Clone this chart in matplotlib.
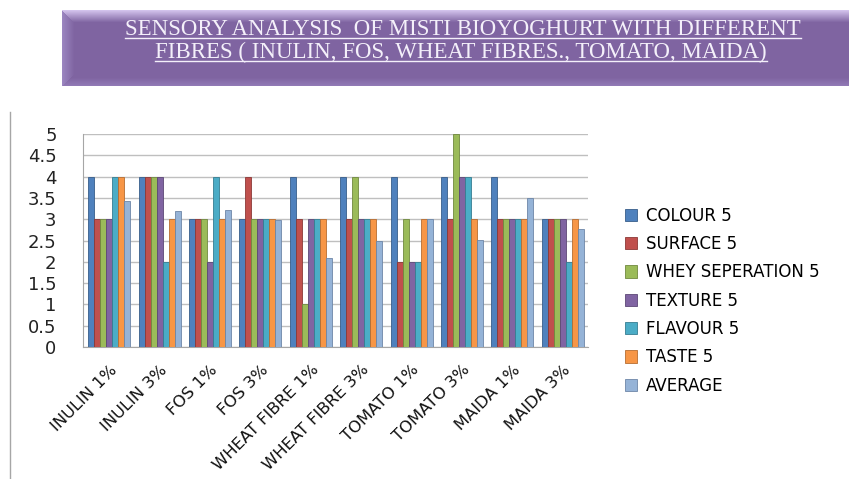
import numpy as np
import matplotlib
matplotlib.use("Agg")
import matplotlib.pyplot as plt
from matplotlib.lines import Line2D

# sensory scores (out of 5) for each sample
samples = ["INULIN 1%", "INULIN 3%", "FOS 1%", "FOS 3%", "WHEAT FIBRE 1%",
           "WHEAT FIBRE 3%", "TOMATO 1%", "TOMATO 3%", "MAIDA 1%", "MAIDA 3%"]
colour = [4, 4, 3, 3, 4, 4, 4, 4, 4, 3]
surface = [3, 4, 3, 4, 3, 3, 2, 3, 3, 3]
whey = [3, 4, 3, 3, 1, 4, 3, 5, 3, 3]
texture = [3, 4, 2, 3, 3, 3, 2, 4, 3, 3]
flavour = [4, 2, 4, 3, 3, 3, 2, 4, 3, 2]
taste = [4, 3, 3, 3, 3, 3, 3, 3, 3, 3]
average = [3.43, 3.2, 3.22, 2.98, 2.1, 2.5, 3.0, 2.52, 3.5, 2.76]

series = [("COLOUR 5", colour, "#4F81BD", "#385D8A"),
          ("SURFACE 5", surface, "#C0504D", "#8C3836"),
          ("WHEY SEPERATION 5", whey, "#9BBB59", "#71893F"),
          ("TEXTURE 5", texture, "#8064A2", "#5C4776"),
          ("FLAVOUR 5", flavour, "#4BACC6", "#357D91"),
          ("TASTE 5", taste, "#F79646", "#B66D31"),
          ("AVERAGE", average, "#95B3D7", "#6D86A8")]

title1 = "SENSORY ANALYSIS  OF MISTI BIOYOGHURT WITH DIFFERENT"
title2 = "FIBRES ( INULIN, FOS, WHEAT FIBRES., TOMATO, MAIDA)"

W, H = 849, 479
fig = plt.figure(figsize=(W / 100, H / 100), dpi=100)
fig.patch.set_facecolor("white")

# ---- bevelled purple banner ----
bx0, by0, bx1, by1 = 62, 10, 849, 86
bw, bh = bx1 - bx0, by1 - by0
base = np.array([127, 100, 161]) / 255.0
top_c = np.array([210, 194, 236]) / 255.0
left_c = np.array([155, 133, 192]) / 255.0
bot_c = np.array([145, 121, 181]) / 255.0
img = np.tile(base, (bh, bw, 1))
yy, xx = np.mgrid[0:bh, 0:bw]
d_top = yy.astype(float)
d_left = xx.astype(float)
d_bot = (bh - 1 - yy).astype(float)
bev = 12.0
m_top = (d_top < bev) & (d_top <= d_left)
m_left = (d_left < bev) & (d_left < d_top) & (d_left <= d_bot)
m_bot = (d_bot < 8) & (d_bot < d_left)
for m, c, d, n in [(m_top, top_c, d_top, bev), (m_left, left_c, d_left, bev),
                   (m_bot, bot_c, d_bot, 8.0)]:
    t = (1 - d / n)[..., None]
    img = np.where(m[..., None], base * (1 - t) + c * t, img)
bax = fig.add_axes([bx0 / W, 1 - by1 / H, bw / W, bh / H])
bax.imshow(img, aspect="auto", interpolation="bilinear")
bax.axis("off")

tcol = "#F4F0FA"
t1 = fig.text(463 / W, 1 - 29.5 / H, title1, ha="center", va="center",
              fontsize=16.5, family="Liberation Serif", color=tcol)
t2 = fig.text(461 / W, 1 - 52.5 / H, title2, ha="center", va="center",
              fontsize=16.5, family="Liberation Serif", color=tcol)
fig.canvas.draw()
r = fig.canvas.get_renderer()
for t, uy in [(t1, 37.5), (t2, 60.5)]:
    bb = t.get_window_extent(r).transformed(fig.transFigure.inverted())
    fig.add_artist(Line2D([bb.x0, bb.x1], [1 - uy / H, 1 - uy / H],
                          transform=fig.transFigure, color=tcol, lw=1.0))

# slide frame line on the left
fig.add_artist(Line2D([10 / W, 10 / W], [1 - 112 / H, 0.0],
                      transform=fig.transFigure, color="#A6A6A6", lw=1.0))

# ---- clustered columns ----
ax = fig.add_axes([83 / W, 1 - 347 / H, (588 - 83) / W, (347 - 134) / H])
x = np.arange(len(samples))
n = len(series)
bw_ = 0.119
for i, (name, vals, fc, ec) in enumerate(series):
    ax.bar(x + (i - (n - 1) / 2) * bw_, vals, width=bw_, color=fc,
           edgecolor=ec, linewidth=0.6, label=name, zorder=3)

ax.set_xlim(-0.52, 9.5)
ax.set_ylim(0, 5)
ax.set_yticks(np.arange(0, 5.01, 0.5))
ax.set_yticklabels(["0", "0.5", "1", "1.5", "2", "2.5", "3", "3.5", "4", "4.5", "5"])
ax.grid(axis="y", color="#BFBFBF", lw=1.0, zorder=0)
ax.set_axisbelow(True)
for s in ["top", "right"]:
    ax.spines[s].set_visible(False)
for s in ["left", "bottom"]:
    ax.spines[s].set_color("#A6A6A6")
ax.tick_params(axis="y", length=0, pad=19, labelsize=13, labelcolor="#222222")
ax.set_xticks(x)
ax.set_xticklabels(samples, rotation=45, ha="right", rotation_mode="anchor",
                   fontsize=11.8, color="#111111")
ax.tick_params(axis="x", length=0, pad=11)

ax.legend(loc="upper left", bbox_to_anchor=(618 / W, 1 - 200 / H),
          bbox_transform=fig.transFigure, frameon=False, fontsize=12,
          handlelength=0.75, handleheight=0.75, handletextpad=0.5,
          labelspacing=0.62, borderaxespad=0)

fig.savefig("out.png", dpi=100, facecolor="white")
